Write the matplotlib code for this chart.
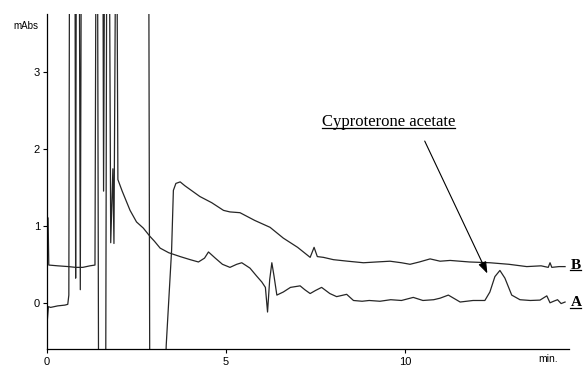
import matplotlib
matplotlib.use("Agg")
import matplotlib.pyplot as plt
from matplotlib.lines import Line2D

plt.rcParams['font.family'] = ['Liberation Sans', 'DejaVu Sans']

# trace A (sample) - time in min, absorbance in mAbs (off-scale peaks kept at 5 / -1)
a_time = [0.0, 0.01, 0.04, 0.1, 0.3, 0.5, 0.58, 0.61, 0.63,
          0.78, 0.80, 0.82, 0.90, 0.93, 0.96, 1.41, 1.44, 1.64, 1.67,
          1.74, 1.78, 1.84, 1.87, 1.92, 1.95, 1.98, 2.1, 2.32, 2.5, 2.69,
          2.88, 3.0, 3.16, 3.4, 3.72, 4.0, 4.23, 4.4, 4.51, 4.7,
          4.9, 5.11, 5.3, 5.44, 5.67, 5.85, 6.0, 6.1, 6.16, 6.22,
          6.28, 6.34, 6.42, 6.6, 6.8, 7.07, 7.2, 7.35, 7.5, 7.67,
          7.9, 8.09, 8.37, 8.56, 8.8, 9.0, 9.3, 9.6, 9.9, 10.23,
          10.5, 10.8, 10.98, 11.21, 11.54, 11.9, 12.23, 12.37, 12.51, 12.65,
          12.79, 12.98, 13.21, 13.5, 13.77, 13.96, 14.05, 14.15, 14.26, 14.36,
          14.47]
a_abs = [0.0, -0.22, -0.05, -0.06, -0.04, -0.03, -0.02, 0.1, 5,
         5, 0.32, 5, 5, 0.17, 5, 5, -1, -1, 5,
         5, 0.78, 1.74, 0.77, 5, 5, 1.6, 1.45, 1.2, 1.05, 0.97,
         0.86, 0.8, 0.71, 0.65, 0.6, 0.56, 0.53, 0.58, 0.66, 0.58,
         0.5, 0.46, 0.5, 0.52, 0.45, 0.35, 0.27, 0.2, -0.12, 0.3,
         0.52, 0.35, 0.1, 0.14, 0.2, 0.22, 0.17, 0.12, 0.16, 0.2,
         0.12, 0.08, 0.11, 0.03, 0.02, 0.03, 0.02, 0.04, 0.03, 0.07,
         0.03, 0.04, 0.06, 0.1, 0.01, 0.03, 0.03, 0.14, 0.34, 0.42,
         0.32, 0.1, 0.04, 0.03, 0.035, 0.09, 0.0, 0.02, 0.04, -0.01,
         0.01]

# trace B (blank)
b_time = [0.0, 0.03, 0.05, 0.3, 0.6, 0.8, 1.0, 1.2, 1.34, 1.37,
          1.56, 1.58, 1.61, 2.84, 2.87, 3.30, 3.33, 3.48, 3.53, 3.6,
          3.72, 3.85, 4.27, 4.6, 4.93, 5.11, 5.39, 5.8, 6.23, 6.6,
          7.0, 7.35, 7.46, 7.55, 7.72, 8.0, 8.4, 8.84, 9.2, 9.58,
          9.9, 10.14, 10.4, 10.7, 10.98, 11.26, 11.8, 12.37, 12.9, 13.4,
          13.8, 14.0, 14.05, 14.1, 14.3, 14.47]
b_abs = [1.12, 1.1, 0.49, 0.48, 0.47, 0.46, 0.46, 0.48, 0.49, 5,
         5, 1.45, 5, 5, -1, -1, -0.55, 0.68, 1.46, 1.55,
         1.57, 1.52, 1.38, 1.3, 1.2, 1.18, 1.17, 1.07, 0.98, 0.84,
         0.72, 0.59, 0.72, 0.6, 0.59, 0.56, 0.54, 0.52, 0.53, 0.54,
         0.52, 0.5, 0.53, 0.57, 0.54, 0.55, 0.53, 0.52, 0.5, 0.47,
         0.48, 0.46, 0.52, 0.46, 0.47, 0.47]

fig = plt.figure(figsize=(5.83, 3.66), dpi=100)
ax = fig.add_axes([47 / 583, 17 / 366, 522 / 583, 335 / 366])

ax.plot(a_time, a_abs, color='0.15', lw=0.9)
ax.plot(b_time, b_abs, color='0.15', lw=0.9)

ax.set_xlim(0, 14.58)
ax.set_ylim(-0.6, 3.75)
ax.set_xticks([0, 5, 10])
ax.set_yticks([0, 1, 2, 3])
ax.tick_params(direction='out', length=3, width=0.8, labelsize=8, pad=2)
ax.tick_params(axis='x', pad=2.5)
for side in ['top', 'right']:
    ax.spines[side].set_visible(False)
for side in ['left', 'bottom']:
    ax.spines[side].set_linewidth(0.9)

ax.text(-0.25, 3.6, 'mAbs', ha='right', va='center', fontsize=7)
ax.text(14.0, -0.67, 'min.', ha='center', va='top', fontsize=7.5)

serif = ['Liberation Serif', 'DejaVu Serif']
labels = []
# trace labels on the right
labels.append(ax.text(14.62, 0.49, 'B', fontsize=11, fontweight='bold', family=serif,
                      ha='left', va='center', clip_on=False))
labels.append(ax.text(14.62, 0.0, 'A', fontsize=11, fontweight='bold', family=serif,
                      ha='left', va='center', clip_on=False))
labels.append(ax.text(7.68, 2.35, 'Cyproterone acetate', fontsize=12, family=serif,
                      ha='left', va='center'))
# arrow pointing at the cyproterone acetate peak
ax.annotate('', xy=(12.3, 0.38), xytext=(10.55, 2.1),
            arrowprops=dict(arrowstyle='-|>,head_length=0.7,head_width=0.25',
                            color='black', lw=0.8, shrinkA=0, shrinkB=0))

# underline each label just below its text box
renderer = fig.canvas.get_renderer()
inv = fig.transFigure.inverted()
for t in labels:
    bb = t.get_window_extent(renderer)
    (x0, y0), (x1, _) = inv.transform([(bb.x0, bb.y0 + 1.5), (bb.x1, bb.y0)])
    fig.add_artist(Line2D([x0, x1], [y0, y0], color='black', lw=0.9))

fig.savefig('out.png', dpi=100)
